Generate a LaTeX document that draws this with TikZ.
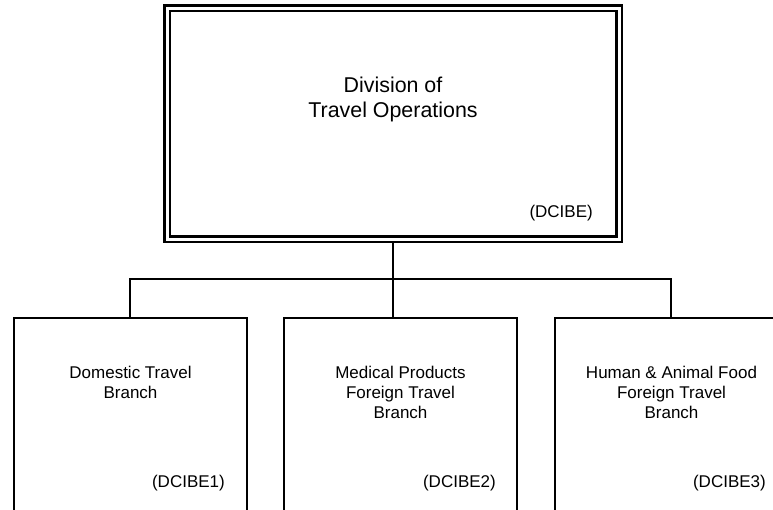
\documentclass[tikz,border=0pt]{standalone}
\usepackage{fontspec}
\setmainfont{Liberation Sans}
\begin{document}
\begin{tikzpicture}[x=1pt,y=-1pt,
  orgbox/.style={draw=black,line width=2.2pt,rectangle,inner sep=0pt,minimum width=233pt,minimum height=203pt,anchor=north},
  topbox/.style={draw=black,line width=2.2pt,double=white,double distance=3pt,rectangle,inner sep=0pt,minimum width=452pt,minimum height=231pt},
  link/.style={draw=black,line width=1.8pt},
  bigtxt/.style={font=\fontsize{21.4}{25}\selectfont,align=center,inner sep=0pt,anchor=north},
  smalltxt/.style={font=\fontsize{17}{20}\selectfont,align=center,inner sep=0pt,anchor=north},
  idtxt/.style={font=\fontsize{17}{20}\selectfont,inner sep=0pt,anchor=base east}]
\useasboundingbox (0,0) rectangle (773,509);
\clip (0,0) rectangle (773,509);
\fill[white] (0,0) rectangle (773,509);
\node[topbox] (top) at (393,123.5) {};
\node[bigtxt] (toptxt) at (393,76.4) {Division of\\Travel Operations};
\node[idtxt] (topid) at (593,217) {(DCIBE)};
\node[orgbox] (b1) at (130.5,317) {};
\node[orgbox] (b2) at (400.5,317) {};
\node[orgbox] (b3) at (671.5,317) {};
\node[smalltxt] (t1) at (130.5,365.6) {Domestic Travel\\Branch};
\node[smalltxt] (t2) at (400.5,365.6) {Medical Products\\Foreign Travel\\Branch};
\node[smalltxt] (t3) at (671.5,365.6) {Human \& Animal Food\\Foreign Travel\\Branch};
\node[idtxt] (id1) at (225,487) {(DCIBE1)};
\node[idtxt] (id2) at (496,487) {(DCIBE2)};
\node[idtxt] (id3) at (766,487) {(DCIBE3)};
\coordinate (bus) at (393,279);
\coordinate (busL) at (130,279);
\coordinate (busR) at (671,279);
\coordinate (d1) at (130,317);
\coordinate (d2) at (393,317);
\coordinate (d3) at (671,317);
\coordinate (topout) at (393,242);
\draw[link] (topout) -- (bus) -- (d2);
\draw[link] (d1) -- (busL) -- (busR) -- (d3);
\end{tikzpicture}
\end{document}
